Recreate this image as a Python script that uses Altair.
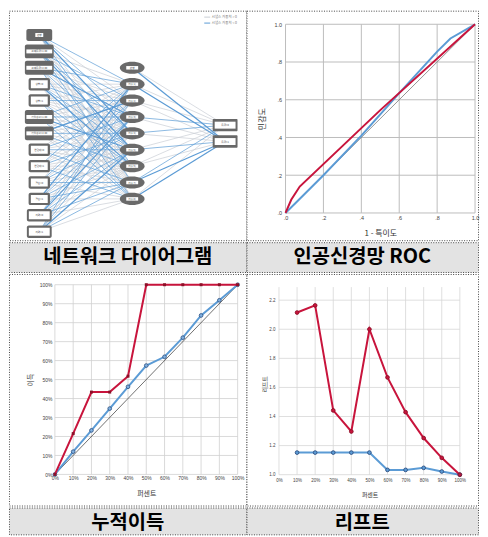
import altair as alt
import pandas as pd

# ---------------- data ----------------
captions = ["네트워크 다이어그램", "인공신경망 ROC", "누적이득", "리프트"]

# network diagram
input_names = ["편향", "고객등급=1.00", "고객등급=2.00", "성별=0", "성별=1",
               "가입경로=1.00", "가입경로=2.00", "연령대=0", "연령대=1",
               "결혼=0", "결혼=1", "지역=0", "지역=1"]
input_kinds = ["bias", "wide", "wide", "narrow", "narrow", "wide", "wide",
               "narrow", "narrow", "narrow", "narrow", "mid", "mid"]
hidden_names = ["편향", "H(1:1)", "H(1:2)", "H(1:3)", "H(1:4)",
                "H(1:5)", "H(1:6)", "H(1:7)", "H(1:8)"]
output_names = ["등급=0", "등급=1"]
synapse_names = ["시냅스 가중치 > 0", "시냅스 가중치 < 0"]
# g/G = weight > 0 (grey), b/B = weight < 0 (blue); capital = stronger
in_hid_codes = [
    "bgbBgbgg", "gbgbBgbg", "bgBgbggb", "ggbgbBgg", "gbgggbgb", "bgbgBggb", "gBgbgbgg",
    "ggbgbgbg", "bggbgggb", "gbgbggbg", "Bgbgbgbg", "gbBgbgbg", "bgbgBgbg",
]
hid_out_codes = ["gB", "gB", "gg", "bg", "bg", "gb", "gg", "bB", "gB"]

# ROC
roc_ticks = [0.0, 0.2, 0.4, 0.6, 0.8, 1.0]
roc_blue_x = [0.0, 0.2, 0.4, 0.6, 0.8, 0.87, 1.0]
roc_blue_y = [0.0, 0.2, 0.41, 0.635, 0.855, 0.925, 1.0]
roc_red_x = [0.0, 0.03, 0.075, 0.5, 1.0]
roc_red_y = [0.0, 0.07, 0.14, 0.545, 1.0]

# cumulative gain
pct = [0, 10, 20, 30, 40, 50, 60, 70, 80, 90, 100]
gain_red = [0, 21.5, 43.4, 43.4, 51.8, 100, 100, 100, 100, 100, 100]
gain_blue = [0, 12, 23.2, 34.7, 46.2, 57.4, 62, 72.1, 83.8, 91.8, 100]

# lift
lift_pct = [10, 20, 30, 40, 50, 60, 70, 80, 90, 100]
lift_red = [2.115, 2.164, 1.442, 1.297, 2.0, 1.669, 1.43, 1.252, 1.116, 1.0]
lift_blue = [1.152, 1.152, 1.152, 1.152, 1.152, 1.033, 1.033, 1.047, 1.022, 1.0]
lift_ticks = [1.0, 1.2, 1.4, 1.6, 1.8, 2.0, 2.2]
lift_top = 2.29
lift_series = ["일반", "소중한 고객"]

# ---------------- style ----------------
KR = "Noto Sans CJK KR"
NUM = "Liberation Sans"
RED = "#c8143c"
DRED = "#8c1028"
BLUE = "#5b9bd5"
DBLUE = "#2e4f80"
GRID = "#d0d0d0"
NODE = "#686868"
BORDER = "#444444"
DASH = [1, 1.5]

LW, RW = 239, 233
H1, HC1, H2, HC2 = 231, 30, 233, 27

IND = dict(color="independent", fill="independent", stroke="independent",
           strokeWidth="independent")


def make_xy(xdom, ydom, xvals, yvals, xexpr, yexpr, xt, yt, xo, yo, xpad, ypad,
            xtx, xty, ytx, yty, lsize, tsize):
    ax = alt.Axis(values=xvals, labelExpr=xexpr, offset=xo, domain=False, ticks=False,
                  grid=False, labelPadding=xpad, labelFontSize=lsize, labelFont=NUM,
                  labelColor="#444", labelFlush=False, labelOverlap=False,
                  title=xt, titleFont=KR, titleFontSize=tsize, titleFontWeight="normal",
                  titleColor="#333", titleX=xtx, titleY=xty, titleAlign="center",
                  titleBaseline="middle", titleAngle=0)
    ay = alt.Axis(values=yvals, labelExpr=yexpr, offset=yo, domain=False, ticks=False,
                  grid=False, labelPadding=ypad, labelFontSize=lsize, labelFont=NUM,
                  labelColor="#444", labelFlush=False, labelOverlap=False,
                  title=yt, titleFont=KR, titleFontSize=tsize, titleFontWeight="normal",
                  titleColor="#333", titleX=ytx, titleY=yty, titleAlign="center",
                  titleBaseline="middle", titleAngle=270)
    X = alt.X("x:Q", scale=alt.Scale(domain=xdom, nice=False, zero=False), axis=ax)
    Y = alt.Y("y:Q", scale=alt.Scale(domain=ydom, nice=False, zero=False), axis=ay)
    return X, Y


def grid_layer(X, Y, xticks, yticks, xext, yext, color=GRID, width=0.8):
    xs = [float(t) for t in xticks] + [float(xext[0])] * len(yticks)
    ys = [float(yext[0])] * len(xticks) + [float(t) for t in yticks]
    xe = [float(t) for t in xticks] + [float(xext[1])] * len(yticks)
    ye = [float(yext[1])] * len(xticks) + [float(t) for t in yticks]
    g = pd.DataFrame({"x": xs, "y": ys, "xe": xe, "ye": ye})
    return alt.Chart(g).mark_rule(color=color, strokeWidth=width).encode(
        x=X, y=Y, x2=alt.X2("xe"), y2=alt.Y2("ye"))


# ---------------- network diagram ----------------
n_in, n_hid, n_out = len(input_names), len(hidden_names), len(output_names)
hid_off = (n_in - n_hid) / 2
out_off = (n_in - n_out) / 2

in_df = pd.DataFrame({"x": [0] * n_in, "y": list(range(n_in)), "name": input_names, "kind": input_kinds})
hid_df = pd.DataFrame({"x": [1] * n_hid, "y": [i + hid_off for i in range(n_hid)], "name": hidden_names})
out_df = pd.DataFrame({"x": [2] * n_out, "y": [i + out_off for i in range(n_out)], "name": output_names})

edges = []
for i, codes in enumerate(in_hid_codes):
    for j, c in enumerate(codes):
        edges.append({"x": 0, "y": i, "x2": 1, "y2": (j + 1) + hid_off,
                      "sign": synapse_names[0] if c.lower() == "g" else synapse_names[1],
                      "strength": "강" if c.isupper() else "약"})
for j, codes in enumerate(hid_out_codes):
    for k, c in enumerate(codes):
        edges.append({"x": 1, "y": j + hid_off, "x2": 2, "y2": k + out_off,
                      "sign": synapse_names[0] if c.lower() == "g" else synapse_names[1],
                      "strength": "강" if c.isupper() else "약"})
edge_df = pd.DataFrame(edges)
edge_df["order"] = edge_df["sign"].map({synapse_names[0]: 0, synapse_names[1]: 1})
edge_df = edge_df.sort_values("order", kind="stable")

NX = alt.X("x:Q", scale=alt.Scale(domain=[-0.326, 2.230], nice=False, zero=False), axis=None)
NY = alt.Y("y:Q", scale=alt.Scale(domain=[-1.486, 12.52], nice=False, zero=False, reverse=True), axis=None)

edge_layer = alt.Chart(edge_df).mark_rule().encode(
    x=NX, y=NY, x2=alt.X2("x2"), y2=alt.Y2("y2"),
    color=alt.Color("sign:N", scale=alt.Scale(domain=synapse_names, range=["#c9ced5", "#5b9bd5"]),
                    legend=alt.Legend(orient="none", legendX=196, legendY=3, title=None,
                                      symbolType="stroke", symbolSize=36, symbolStrokeWidth=1,
                                      labelFontSize=3.5, labelFont=KR, labelColor="#777",
                                      rowPadding=0, labelOffset=1, padding=0)),
    strokeWidth=alt.StrokeWidth("strength:O", scale=alt.Scale(domain=["약", "강"], range=[0.7, 1.2]),
                                legend=None),
)

kind_sizes = {
    "bias": (26, 12, 8, 4),
    "wide": (29, 14, 26, 4),
    "narrow": (21.5, 12.5, 17, 8),
    "mid": (25, 12.5, 21, 8),
}
node_layers = []
for k, (w, h, iw, ih) in kind_sizes.items():
    base = alt.Chart(in_df).transform_filter(alt.datum.kind == k)
    node_layers.append(base.mark_rect(width=w, height=h, cornerRadius=2, color=NODE).encode(x=NX, y=NY))
    node_layers.append(base.mark_rect(width=iw, height=ih, color="white").encode(x=NX, y=NY))
    node_layers.append(base.mark_text(fontSize=2.6, font=KR, color="#444").encode(x=NX, y=NY, text="name:N"))

ELLIPSE = "M-1,0A1,0.49,0,1,1,1,0A1,0.49,0,1,1,-1,0Z"
hid_layers = [
    alt.Chart(hid_df).mark_point(shape=ELLIPSE, size=620, filled=True, color="#6a6a6a", opacity=1).encode(x=NX, y=NY),
    alt.Chart(hid_df).mark_rect(width=12, height=3.5, color="white").encode(x=NX, y=NY),
    alt.Chart(hid_df).mark_text(fontSize=2.6, font=KR, color="#444").encode(x=NX, y=NY, text="name:N"),
]
out_layers = [
    alt.Chart(out_df).mark_rect(width=25, height=12.5, cornerRadius=1, color=NODE).encode(x=NX, y=NY),
    alt.Chart(out_df).mark_rect(width=21, height=7, color="white").encode(x=NX, y=NY),
    alt.Chart(out_df).mark_text(fontSize=2.6, font=KR, color="#444").encode(x=NX, y=NY, text="name:N"),
]
net = alt.layer(edge_layer, *node_layers, *hid_layers, *out_layers).properties(width=LW, height=H1)

# ---------------- ROC ----------------
RX, RY = make_xy([-0.206, 1.0157], [-0.1443, 1.0721], roc_ticks, roc_ticks,
                 "datum.value >= 1 ? '1.0' : '.' + format(datum.value * 10, '.0f')",
                 "datum.value >= 1 ? '1.0' : '.' + format(datum.value * 10, '.0f')",
                 "1 - 특이도", "민감도", -27.4, -39.3, 3, 4, 134.7, 20.5, -23.6, 108.7, 5.5, 8)
roc_grid = grid_layer(RX, RY, roc_ticks, roc_ticks, [roc_ticks[0], roc_ticks[-1]],
                      [roc_ticks[0], roc_ticks[-1]], color="#bcbcbc", width=1)
roc_diag = alt.Chart(pd.DataFrame({"x": [roc_ticks[0], roc_ticks[-1]], "y": [roc_ticks[0], roc_ticks[-1]]})) \
    .mark_line(color="#7a7a7a", strokeWidth=0.8).encode(x=RX, y=RY)
roc_b = alt.Chart(pd.DataFrame({"x": roc_blue_x, "y": roc_blue_y})).mark_line(color=BLUE, strokeWidth=2).encode(x=RX, y=RY)
roc_r = alt.Chart(pd.DataFrame({"x": roc_red_x, "y": roc_red_y})).mark_line(color=RED, strokeWidth=2).encode(x=RX, y=RY)
roc = alt.layer(roc_grid, roc_diag, roc_b, roc_r).properties(width=RW, height=H1)

# ---------------- cumulative gain ----------------
GX, GY = make_xy([-25.12, 104.84], [-16.40, 105.66], pct, pct,
                 "datum.value + '%'", "datum.value + '%'",
                 "퍼센트", "이득", -31.3, -46.2, 1.5, 3, 138.2, 19.6, -24.6, 106.3, 5, 7)
gain_grid = grid_layer(GX, GY, pct, pct, [pct[0], pct[-1]], [pct[0], pct[-1]])
gain_diag = alt.Chart(pd.DataFrame({"x": [pct[0], pct[-1]], "y": [pct[0], pct[-1]]})) \
    .mark_line(color="#333", strokeWidth=0.7).encode(x=GX, y=GY)
gb_df = pd.DataFrame({"x": pct, "y": gain_blue})
gr_df = pd.DataFrame({"x": pct, "y": gain_red})
gain_bl = alt.Chart(gb_df).mark_line(color=BLUE, strokeWidth=2).encode(x=GX, y=GY)
gain_bp = alt.Chart(gb_df).mark_point(filled=True, size=14, fill="#7fb0e0", stroke=DBLUE,
                                      strokeWidth=0.8, opacity=1).encode(x=GX, y=GY)
gain_rl = alt.Chart(gr_df).mark_line(color=RED, strokeWidth=2).encode(x=GX, y=GY)
gain_rp = alt.Chart(gr_df).mark_square(size=9, color=DRED, opacity=1).encode(x=GX, y=GY)
gain = alt.layer(gain_grid, gain_diag, gain_bl, gain_bp, gain_rl, gain_rp).properties(width=LW, height=H2)

# ---------------- lift ----------------
LX, LY = make_xy([-17.97, 110.05], [0.788, 2.380], pct, lift_ticks,
                 "datum.value + '%'", "format(datum.value, '.1f')",
                 "퍼센트", "리프트", -31, -32.7, 2.5, 4, 123.9, 19.7, -15, 110.6, 4.5, 6)
lift_grid = grid_layer(LX, LY, pct, lift_ticks, [pct[0], pct[-1]], [lift_ticks[0], lift_top],
                       color="#d6d6d6", width=0.8)
lift_df = pd.DataFrame({
    "x": lift_pct + lift_pct,
    "y": lift_blue + lift_red,
    "s": [lift_series[0]] * len(lift_pct) + [lift_series[1]] * len(lift_pct),
})
lift_df["계열"] = lift_df["s"]
lift_lines = alt.Chart(lift_df).mark_line(strokeWidth=2).encode(
    x=LX, y=LY,
    color=alt.Color("s:N", scale=alt.Scale(domain=lift_series, range=[BLUE, RED]), legend=None),
)
lift_fill = alt.Chart(lift_df).mark_circle(size=14, opacity=1).encode(
    x=LX, y=LY,
    fill=alt.Fill("계열:N", scale=alt.Scale(domain=lift_series, range=[BLUE, RED]),
                  legend=alt.Legend(orient="top-right", offset=1, title=" ", titleFontSize=9,
                                    titlePadding=5, symbolType="circle", symbolSize=24,
                                    labelFontSize=4, labelFont=KR, labelColor="#555",
                                    rowPadding=1.5, labelOffset=1.5, padding=0)),
)
lift_rim_b = alt.Chart(lift_df).transform_filter(alt.datum.s == lift_series[0]) \
    .mark_point(size=14, strokeWidth=0.9, color=DBLUE, filled=False, opacity=1).encode(x=LX, y=LY)
lift_rim_r = alt.Chart(lift_df).transform_filter(alt.datum.s == lift_series[1]) \
    .mark_point(size=14, strokeWidth=0.9, color=DRED, filled=False, opacity=1).encode(x=LX, y=LY)
lift = alt.layer(lift_grid, lift_lines, lift_fill, lift_rim_b, lift_rim_r).properties(width=RW, height=H2)


# ---------------- captions ----------------
def caption(text, w, h, dy=0):
    return alt.Chart(pd.DataFrame({"t": [text]})).mark_text(
        font=KR, fontSize=20, fontWeight="bold", color="#000", dy=dy
    ).encode(text="t:N").properties(
        width=w, height=h,
        view=alt.ViewBackground(fill="#e3e3e3", stroke=BORDER, strokeDash=DASH, strokeWidth=1),
    )


def row(a, b):
    return alt.hconcat(a, b, spacing=0, bounds="flush").resolve_scale(**IND)


row1 = row(net, roc)
row2 = row(caption(captions[0], LW, HC1), caption(captions[1], RW, HC1))
row3 = row(gain, lift)
row4 = row(caption(captions[2], LW, HC2, 2), caption(captions[3], RW, HC2, 2))

chart = alt.vconcat(row1, row2, row3, row4, spacing=0).resolve_scale(**IND).properties(
    padding=0, background="white"
).configure_view(
    stroke=BORDER, strokeDash=DASH, strokeWidth=1, fill="white"
)

chart.save("out.html", embed_options={"renderer": "svg", "actions": False})
